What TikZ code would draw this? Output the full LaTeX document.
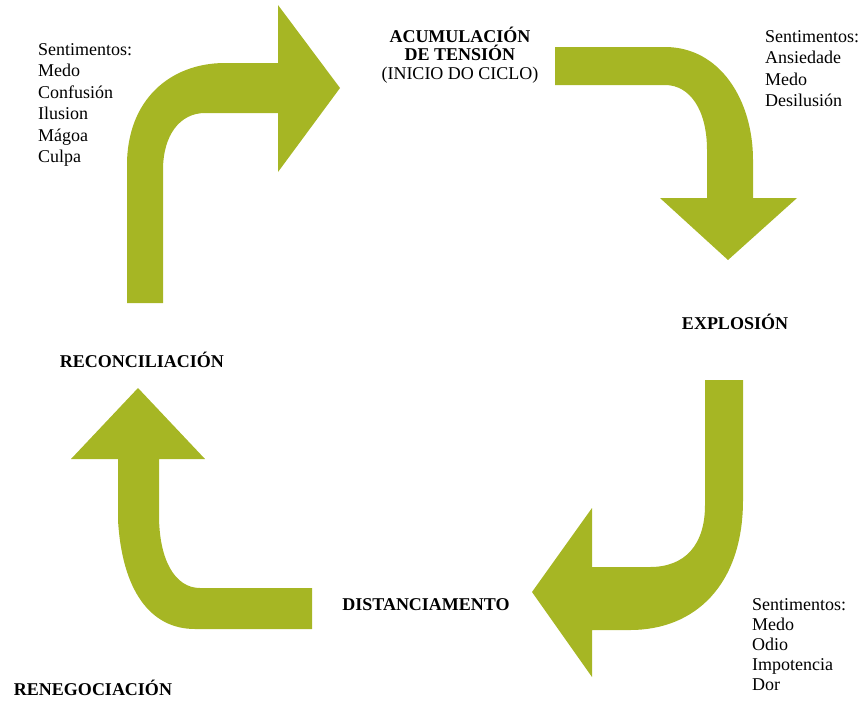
\documentclass[tikz,border=0pt]{standalone}
\usepackage{fontspec}
\setmainfont{Liberation Serif}
\definecolor{olivearrow}{RGB}{166,182,36}
\begin{document}
\begin{tikzpicture}[x=1pt, y=-1pt,
    stage/.style={font=\fontsize{18}{18.5}\selectfont\bfseries, align=center, inner sep=0pt},
    feelings/.style={font=\fontsize{18}{21.5}\selectfont, align=left, anchor=north west, inner sep=0pt},
    bigarrow/.style={fill=olivearrow, draw=none}]
    \useasboundingbox (0,0) rectangle (864,702);

    \fill[bigarrow] (127,303) -- (127,165) .. controls (127,100) and (170,63) .. (225,63) -- (278,63) -- (278,5)
        -- (340,88) -- (278,172) -- (278,113) -- (205,113) .. controls (180,113) and (163,135) .. (163,170) -- (163,303) -- cycle;
    \fill[bigarrow] (555,47) -- (665,47) .. controls (720,47) and (753,100) .. (753,160) -- (753,198) -- (797,198)
        -- (728,260) -- (660,198) -- (707,198) -- (707,150) .. controls (707,110) and (690,85) .. (665,85) -- (555,85) -- cycle;
    \fill[bigarrow] (705,380) -- (743,380) -- (743,500) .. controls (743,585) and (695,630) .. (630,630) -- (592,630)
        -- (592,677) -- (532,592) -- (592,508) -- (592,567) -- (650,567) .. controls (685,567) and (705,545) .. (705,505) -- cycle;
    \fill[bigarrow] (312,588) -- (200,588) .. controls (175,588) and (159,560) .. (159,515) -- (159,459) -- (205,459)
        -- (138,388) -- (71,459) -- (118,459) -- (118,520) .. controls (122,590) and (150,629) .. (195,629) -- (312,629) -- cycle;

    \node[stage] (acumulacion) at (460,55) {ACUMULACIÓN\\DE TENSIÓN\\\mdseries(INICIO DO CICLO)};
    \node[stage] (explosion) at (735,322) {EXPLOSIÓN};
    \node[stage] (distanciamento) at (426,605) {DISTANCIAMENTO};
    \node[stage] (reconciliacion) at (142,360) {RECONCILIACIÓN};
    \node[stage] (renegociacion) at (93,688) {RENEGOCIACIÓN};

    \node[feelings] (sentA) at (38,43) {Sentimentos:\\Medo\\Confusión\\Ilusion\\Mágoa\\Culpa};
    \node[feelings] (sentB) at (765,30) {Sentimentos:\\Ansiedade\\Medo\\Desilusión};
    \node[feelings, font=\fontsize{18}{20}\selectfont] (sentC) at (752,598) {Sentimentos:\\Medo\\Odio\\Impotencia\\Dor};
\end{tikzpicture}
\end{document}
